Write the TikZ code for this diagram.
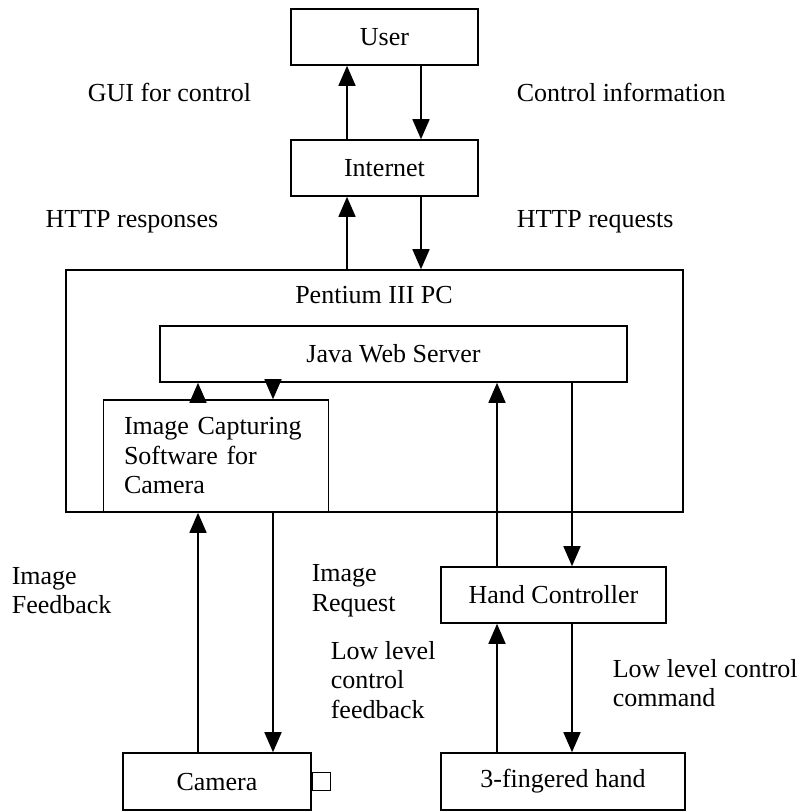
\documentclass[tikz,border=0pt]{standalone}
\usepackage{fontspec}
\setmainfont{Liberation Serif}
\usetikzlibrary{arrows.meta}

\tikzset{
  box/.style={draw, inner sep=0pt, minimum height=28pt},
  lbl/.style={inner sep=0pt, align=left, anchor=west},
}

\begin{document}
\begin{tikzpicture}[x=0.5pt, y=-0.5pt, line width=0.8pt,
    font=\fontsize{13pt}{14.75pt}\selectfont,
    >={Triangle[length=10pt, width=8.5pt]}]
      \useasboundingbox (0,0) rectangle (812,811);

      % columns of the arrows
      \coordinate (c1) at (347,0);
      \coordinate (c2) at (421,0);
      \coordinate (c3) at (198,0);
      \coordinate (c4) at (273,0);
      \coordinate (c5) at (497,0);
      \coordinate (c6) at (572,0);

      \node[box, minimum width=93.5pt] (user) at (384.5,37) {User};
      \node[box, minimum width=93.5pt] (internet) at (384.5,168) {Internet};
      \node[box, minimum width=308.5pt, minimum height=121pt] (pc) at (374.5,391) {};
      \node (pctitle) at (374,295) {Pentium III PC};
      \node[box, minimum width=233.5pt] (server) at (393.5,354) {Java Web Server};
      \node[box, text width=92pt, inner xsep=10.25pt, minimum height=56pt, align=left]
        (capture) at (216,456) {Image Capturing\\Software for\\Camera};
      \node[box, minimum width=112.5pt] (handctrl) at (553.5,595) {Hand Controller};
      \node[box, minimum width=94pt, minimum height=28.5pt] (camera) at (217,781.5) {Camera};
      \node[draw, inner sep=0pt, minimum size=9pt, anchor=west] (lens) at (camera.east) {};
      \node[box, minimum width=122pt, minimum height=28.5pt] (hand) at (563,781.5) {3-fingered hand};

      \draw[->] (internet.north -| c1) -- (user.south -| c1);
      \draw[->] (user.south -| c2) -- (internet.north -| c2);
      \draw[->] (pc.north -| c1) -- (internet.south -| c1);
      \draw[->] (internet.south -| c2) -- (pc.north -| c2);
      \draw[->] (capture.north -| c3) -- (server.south -| c3);
      \draw[->] (server.south -| c4) -- (capture.north -| c4);
      \draw[->] (handctrl.north -| c5) -- (server.south -| c5);
      \draw[->] (server.south -| c6) -- (handctrl.north -| c6);
      \draw[->] (camera.north -| c3) -- (capture.south -| c3);
      \draw[->] (capture.south -| c4) -- (camera.north -| c4);
      \draw[->] (hand.north -| c5) -- (handctrl.south -| c5);
      \draw[->] (handctrl.south -| c6) -- (hand.north -| c6);

      % labels
      \node[lbl] (guilbl) at (87,92) {GUI for control};
      \node[lbl] (ctrllbl) at (516,92) {Control information};
      \node[lbl, anchor=east] (resplbl) at (219,222) {HTTP responses};
      \node[lbl] (reqlbl) at (516,222) {HTTP requests};
      \node[lbl] (feedlbl) at (11,590.5) {Image\\Feedback};
      \node[lbl] (imgreqlbl) at (311,590.5) {Image\\Request};
      \node[lbl] (lowfblbl) at (330,680) {Low level\\control\\feedback};
      \node[lbl] (lowcmdlbl) at (612,683) {Low level control\\command};
\end{tikzpicture}
\end{document}
